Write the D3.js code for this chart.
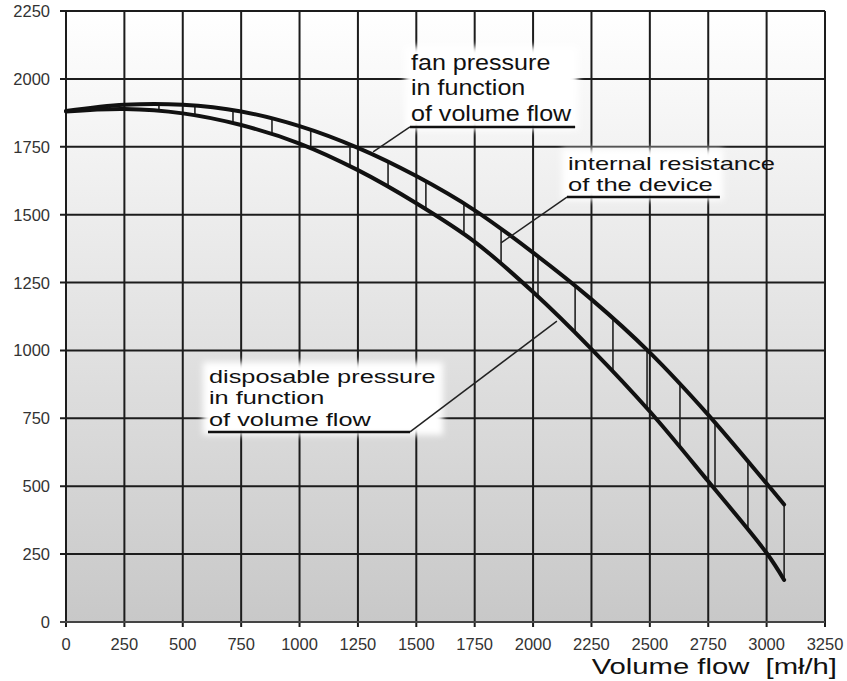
<!DOCTYPE html>
<html><head><meta charset="utf-8">
<script src="https://cdn.jsdelivr.net/npm/d3@7"></script>
<style>body{margin:0;background:#fff}svg{display:block}text{font-family:"Liberation Sans",Arial,sans-serif}</style>
</head><body><svg id="c" width="847" height="681"></svg>
<script>
// ---- data ----
const flowX = [0,250,500,750,1000,1250,1500,1750,2000,2250,2500,2750,3000,3075];
const fanPressure = [1882,1905,1905,1880,1826,1746,1642,1516,1360,1188,992,763,510,433];
const disposablePressure = [1880,1889,1873,1830,1762,1664,1542,1400,1215,1005,775,518,254,155];
const hatchX = [188,398,552,715,882,1048,1216,1379,1541,1704,1863,2021,2180,2342,2488,2629,2779,2920,3075];
const xTicks = [0,250,500,750,1000,1250,1500,1750,2000,2250,2500,2750,3000,3250];
const yTicks = [0,250,500,750,1000,1250,1500,1750,2000,2250];
const annotations = [
  {lines:["fan pressure","in function","of volume flow"], ux1:1473, ux2:2180, uy:1823, lx:1315, ly:1731, fs:22, sx:1.14, lh:25.5},
  {lines:["internal resistance","of the device"], ux1:2145, ux2:2800, uy:1565, lx:1863, ly:1396, fs:18.5, sx:1.38, lh:21.5},
  {lines:["disposable pressure","in function","of volume flow"], ux1:608, ux2:1473, uy:700, lx:2102, ly:1108, fs:18.5, sx:1.37, lh:21.5, leaderFromEnd:true}
];
const axisTitle = "Volume flow  [mł/h]";

// ---- layout ----
const L=66, R=825, T=11, B=622;
const svg = d3.select("#c");
const x = d3.scaleLinear().domain([0,3250]).range([L,R]);
const y = d3.scaleLinear().domain([0,2250]).range([B,T]);

const defs = svg.append("defs");
const grad = defs.append("linearGradient").attr("id","bg").attr("x1",0).attr("y1",0).attr("x2",0).attr("y2",1);
grad.append("stop").attr("offset","0%").attr("stop-color","#ffffff");
grad.append("stop").attr("offset","100%").attr("stop-color","#c8c8c8");
const blur = defs.append("filter").attr("id","blur").attr("x","-20%").attr("y","-40%").attr("width","140%").attr("height","180%");
blur.append("feGaussianBlur").attr("stdDeviation",3);

svg.append("rect").attr("x",L).attr("y",T).attr("width",R-L).attr("height",B-T).attr("fill","url(#bg)");

// grid
svg.append("g").selectAll("line").data(xTicks).join("line")
  .attr("x1",d=>x(d)).attr("x2",d=>x(d)).attr("y1",T).attr("y2",B+5)
  .attr("stroke","#1c1c1c").attr("stroke-width",2);
svg.append("g").selectAll("line").data(yTicks).join("line")
  .attr("x1",L-6).attr("x2",R).attr("y1",d=>y(d)).attr("y2",d=>y(d))
  .attr("stroke",d=>d===0?"#444":"#1c1c1c").attr("stroke-width",2);

// tick labels
svg.append("g").selectAll("text").data(xTicks).join("text")
  .attr("x",d=>x(d)).attr("y",650).attr("text-anchor","middle")
  .attr("font-size",16.5).attr("fill","#333").text(d=>d);
svg.append("g").selectAll("text").data(yTicks).join("text")
  .attr("x",50).attr("y",d=>y(d)+6).attr("text-anchor","end")
  .attr("font-size",16.5).attr("fill","#333").text(d=>d);

// curves
const line = d3.line().x(d=>x(d[0])).y(d=>y(d[1])).curve(d3.curveCatmullRom.alpha(0.5));
const paths = [fanPressure, disposablePressure].map(s=>
  svg.append("path").attr("d",line(flowX.map((v,i)=>[v,s[i]])))
    .attr("fill","none").attr("stroke","#111").attr("stroke-width",4).attr("stroke-linecap","round"));

// find y on a drawn path at given data x
function yOnPath(p, xv){
  const node=p.node(), len=node.getTotalLength(), px=x(xv);
  let lo=0, hi=len;
  for(let k=0;k<40;k++){const m=(lo+hi)/2; if(node.getPointAtLength(m).x<px) lo=m; else hi=m;}
  return node.getPointAtLength((lo+hi)/2).y;
}

// hatch lines (internal resistance)
svg.insert("g","path").selectAll("line").data(hatchX).join("line")
  .attr("x1",d=>x(d)).attr("x2",d=>x(d))
  .attr("y1",d=>yOnPath(paths[0],d)).attr("y2",d=>yOnPath(paths[1],d))
  .attr("stroke","#222").attr("stroke-width",1.6);

// annotations
annotations.forEach(a=>{
  const ux1=x(a.ux1), ux2=x(a.ux2), uy=y(a.uy);
  const n=a.lines.length;
  const top = uy - 7 - (n-1)*a.lh - a.fs*0.8 - 5;
  svg.append("rect").attr("x",ux1-5).attr("y",top).attr("width",ux2-ux1+ (a.leaderFromEnd?38:8)).attr("height",uy-top+3)
    .attr("fill","#fff").attr("filter","url(#blur)");
  const g = svg.append("g").attr("transform",`translate(${ux1+1},0) scale(${a.sx},1)`);
  const t = g.append("text").attr("font-size",a.fs).attr("fill","#111");
  a.lines.forEach((s,i)=>{
    t.append("tspan").attr("x",0).attr("y",uy-6-(n-1-i)*a.lh).text(s);
  });
  svg.append("line").attr("x1",ux1).attr("x2",ux2).attr("y1",uy).attr("y2",uy).attr("stroke","#111").attr("stroke-width",2.5);
  const sx0 = a.leaderFromEnd ? ux2 : ux1;
  svg.append("line").attr("x1",sx0).attr("y1",uy).attr("x2",x(a.lx)).attr("y2",y(a.ly)).attr("stroke","#222").attr("stroke-width",1.5);
});

// axis title
svg.append("g").attr("transform","translate(837,674) scale(1.3,1)")
  .append("text").attr("x",0).attr("y",0).attr("text-anchor","end").attr("font-size",22.5)
  .attr("fill","#111").attr("xml:space","preserve").style("white-space","pre").text(axisTitle);
</script></body></html>
